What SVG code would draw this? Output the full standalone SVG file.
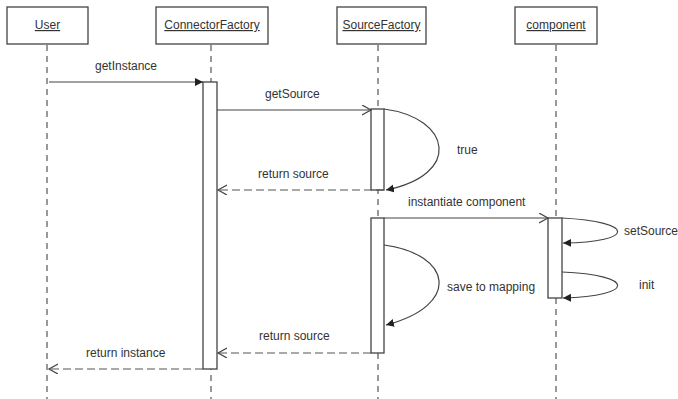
<svg xmlns="http://www.w3.org/2000/svg" width="678" height="399" viewBox="0 0 678 399">
<style>
.box{fill:#fff;stroke:#444;stroke-width:1.3}
.act{fill:#fff;stroke:#444;stroke-width:1.3}
.life{stroke:#555;stroke-width:1.2;stroke-dasharray:6,5;fill:none}
.msg{stroke:#444;stroke-width:1.2;fill:none}
.ret{stroke:#555;stroke-width:1.2;stroke-dasharray:8,4;fill:none}
.t{font-family:"Liberation Sans",Arial,sans-serif;font-size:12px;fill:#333}
.h{text-decoration:underline;text-anchor:middle}
</style>
<defs>
<marker id="filled" markerWidth="10" markerHeight="10" refX="8" refY="4" orient="auto" markerUnits="userSpaceOnUse">
<path d="M0,0 L8,4 L0,8 z" fill="#222"/>
</marker>
<marker id="open" markerWidth="12" markerHeight="12" refX="9" refY="5" orient="auto" markerUnits="userSpaceOnUse">
<path d="M0,0 L9,5 L0,10" fill="none" stroke="#444" stroke-width="1.2"/>
</marker>
</defs>
<rect width="678" height="399" fill="#fff"/>
<g id="lifelines">
<line class="life" x1="47" y1="45" x2="47" y2="399"/>
<line class="life" x1="211" y1="45" x2="211" y2="399"/>
<line class="life" x1="378" y1="45" x2="378" y2="399"/>
<line class="life" x1="556" y1="45" x2="556" y2="399"/>
</g>
<g id="User"><rect class="box" x="7" y="7" width="81" height="37"/><text class="t h" x="47.5" y="29">User</text></g>
<g id="ConnectorFactory"><rect class="box" x="156" y="7" width="112" height="37"/><text class="t h" x="212" y="29">ConnectorFactory</text></g>
<g id="SourceFactory"><rect class="box" x="337" y="7" width="89" height="37"/><text class="t h" x="381.5" y="29">SourceFactory</text></g>
<g id="component"><rect class="box" x="515" y="7" width="82" height="37"/><text class="t h" x="556" y="29">component</text></g>
<g id="activations">
<rect class="act" x="203" y="82" width="14" height="287"/>
<rect class="act" x="371" y="109" width="13" height="81"/>
<rect class="act" x="371" y="218" width="13" height="135"/>
<rect class="act" x="548" y="218" width="14" height="80"/>
</g>
<g id="connectors">
<line class="msg" x1="49" y1="82" x2="203" y2="82" marker-end="url(#filled)"/>
<line class="msg" x1="217" y1="110" x2="371" y2="110" marker-end="url(#open)"/>
<path class="msg" d="M384,109 C452,118 462,175 386,190" marker-end="url(#filled)"/>
<line class="ret" x1="384" y1="190" x2="218" y2="190" marker-end="url(#open)"/>
<line class="msg" x1="384" y1="218" x2="548" y2="218" marker-end="url(#open)"/>
<path class="msg" d="M562,218 C636,222 636,242 563,243" marker-end="url(#filled)"/>
<path class="msg" d="M562,272 C636,275 636,296 563,298" marker-end="url(#filled)"/>
<path class="msg" d="M384,245 C452,254 462,305 386,325" marker-end="url(#filled)"/>
<line class="ret" x1="371" y1="353" x2="218" y2="353" marker-end="url(#open)"/>
<line class="ret" x1="203" y1="369" x2="49" y2="369" marker-end="url(#open)"/>
</g>
<g id="labels">
<text class="t" x="95" y="70">getInstance</text>
<text class="t" x="265" y="98">getSource</text>
<text class="t" x="457" y="154">true</text>
<text class="t" x="258" y="178">return source</text>
<text class="t" x="408" y="206">instantiate component</text>
<text class="t" x="624" y="235">setSource</text>
<text class="t" x="447" y="291">save to mapping</text>
<text class="t" x="639" y="289">init</text>
<text class="t" x="259" y="340">return source</text>
<text class="t" x="86" y="357">return instance</text>
</g>
</svg>
